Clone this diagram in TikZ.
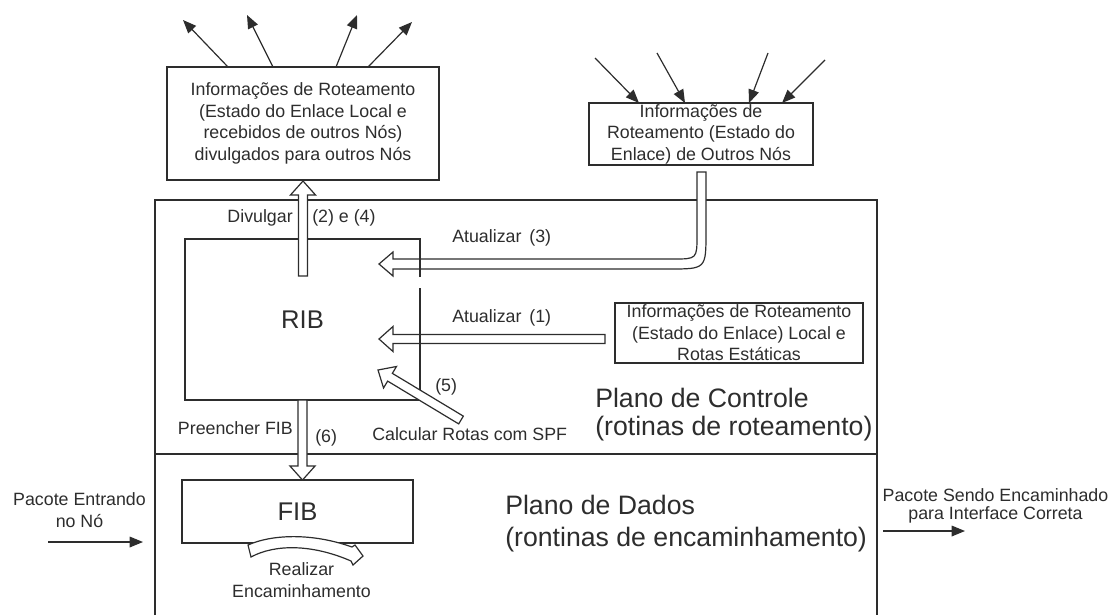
\documentclass[tikz,border=0pt]{standalone}
\usepackage{fontspec}
\setmainfont{Liberation Sans}
\usetikzlibrary{arrows.meta,calc}
\definecolor{inkc}{RGB}{45,45,45}
\newcommand\lblfont{\fontsize{13.35pt}{16.1pt}\selectfont}
\newcommand\pktfont{\fontsize{13.35pt}{13.6pt}\selectfont}
\newcommand\planefont{\fontsize{20pt}{24pt}\selectfont}
\newcommand\tablefont{\fontsize{19.2pt}{23pt}\selectfont}

% hollow block arrow from tail #1 to tip #2
\newcommand{\blockarrow}[2]{%
  \coordinate (ba-h) at ($(#2)!10.5pt!(#1)$);
  \filldraw[fatarrow] ($(#1)!3.4pt!90:(#2)$) -- ($(ba-h)!3.4pt!90:(#2)$)
    -- ($(ba-h)!9.4pt!90:(#2)$) -- (#2) -- ($(ba-h)!9.4pt!-90:(#2)$)
    -- ($(ba-h)!3.4pt!-90:(#2)$) -- ($(#1)!3.4pt!-90:(#2)$) -- cycle;
}

\begin{document}
\begin{tikzpicture}[x=0.75pt,y=-0.75pt,
  ink/.style={draw=inkc, line width=0.9pt},
  infobox/.style={draw=inkc, line width=0.9pt, inner sep=0pt, align=center,
    font=\lblfont, text=inkc},
  lbl/.style={font=\lblfont, text=inkc, inner sep=0pt},
  plane/.style={font=\planefont, text=inkc, inner sep=0pt, anchor=base west},
  fatarrow/.style={draw=inkc, fill=white, line width=0.9pt, line join=miter},
  thin/.style={draw=inkc, line width=0.9pt, -{Triangle[length=10pt,width=8pt]}}]
\useasboundingbox (0,0) rectangle (1112,615);

% ---- routing information boxes ----
\node[infobox, minimum width=204pt, minimum height=84.75pt] (adv) at (303,123.5)
  {Informações de Roteamento\\(Estado do Enlace Local e\\recebidos de outros Nós)\\divulgados para outros Nós};
\node[infobox, minimum width=168pt, minimum height=46.5pt] (ext) at (701,134)
  {Informações de\\Roteamento (Estado do\\Enlace) de Outros Nós};
\node[infobox, minimum width=186pt, minimum height=45pt] (loc) at (739,333)
  {Informações de Roteamento\\(Estado do Enlace) Local e\\Rotas Estáticas};

% outgoing advertisements
\coordinate (o1s) at (228,67); \coordinate (o1e) at (183,20);
\coordinate (o2s) at (273,67); \coordinate (o2e) at (247,15);
\coordinate (o3s) at (336,67); \coordinate (o3e) at (357,15);
\coordinate (o4s) at (368,67); \coordinate (o4e) at (412,22);
\foreach \i in {1,...,4} \draw[thin] (o\i s) -- (o\i e);

% incoming advertisements
\coordinate (i1s) at (595,58); \coordinate (i1e) at (639,103);
\coordinate (i2s) at (657,53); \coordinate (i2e) at (685,103);
\coordinate (i3s) at (768,53); \coordinate (i3e) at (749,103);
\coordinate (i4s) at (825,60); \coordinate (i4e) at (782,103);
\foreach \i in {1,...,4} \draw[thin] (i\i s) -- (i\i e);

% ---- router: control plane over data plane ----
\draw[ink] (155,615) -- (155,200) -- (877,200) -- (877,615);
\draw[ink] (155,454) -- (877,454);

% update (3): bent hollow arrow from the external information into the RIB
\filldraw[fatarrow] (379,264) -- (393,252) -- (393,259) -- (673,259)
  .. controls (697,259) .. (697,235) -- (697,172) -- (706,172) -- (706,232)
  .. controls (706,269) .. (669,269) -- (393,269) -- (393,276) -- cycle;

% update (1)
\coordinate (u1s) at (605,339); \coordinate (u1e) at (379,339);
\blockarrow{u1s}{u1e}

% RIB
\node[font=\tablefont, text=inkc, minimum width=176.25pt, minimum height=120.75pt,
  inner sep=0pt] (rib) at (302.5,319.5) {RIB};
\draw[ink] (420,277) -- (420,239) -- (185,239) -- (185,400) -- (420,400) -- (420,288);

% FIB
\node[draw=inkc, line width=0.9pt, font=\tablefont, text=inkc, minimum width=173.25pt,
  minimum height=47.25pt, inner sep=0pt] (fib) at (297.5,511.5) {FIB};

% advertise (2) and (4)
\coordinate (d1s) at (303,276); \coordinate (d1e) at (303,181);
\blockarrow{d1s}{d1e}
% fill FIB (6)
\coordinate (p1s) at (302.5,400); \coordinate (p1e) at (302.5,480);
\blockarrow{p1s}{p1e}
% compute routes (5)
\coordinate (c1s) at (461,420); \coordinate (c1e) at (378,370);
\blockarrow{c1s}{c1e}

% forwarding: curved hollow arrow under the FIB
\filldraw[fatarrow] (248,545) .. controls (270,535) and (310,532) .. (352,547)
  -- (355,545) -- (363,556) -- (353,565) -- (351,561)
  .. controls (312,544) and (275,544) .. (251,557) -- cycle;

% ---- labels ----
\node[lbl, anchor=east] at (293,218) {Divulgar};
\node[lbl, anchor=west] at (312,218) {(2) e (4)};
\node[lbl, anchor=west] at (452,238) {Atualizar\, (3)};
\node[lbl, anchor=west] at (452,318) {Atualizar\, (1)};
\node[lbl, anchor=west] at (435,387) {(5)};
\node[lbl, anchor=east] at (293,428) {Preencher FIB};
\node[lbl, anchor=west] at (315,438) {(6)};
\node[lbl, anchor=west] at (372,434) {Calcular Rotas com SPF};
\node[lbl, align=center] at (301.5,580) {Realizar\\Encaminhamento};

\node[plane] at (595,407) {Plano de Controle};
\node[plane] at (595,435) {(rotinas de roteamento)};
\node[plane] at (505,514) {Plano de Dados};
\node[plane] at (505,546) {(rontinas de encaminhamento)};

% packets in and out
\node[lbl, align=center] at (79.5,510) {Pacote Entrando\\no Nó};
\coordinate (in-s) at (48,542); \coordinate (in-e) at (143,542);
\draw[thin] (in-s) -- (in-e);
\node[lbl, align=center, font=\pktfont] at (995.5,506) {Pacote Sendo Encaminhado\\para Interface Correta};
\coordinate (out-s) at (883,531); \coordinate (out-e) at (965,531);
\draw[thin] (out-s) -- (out-e);
\end{tikzpicture}
\end{document}
